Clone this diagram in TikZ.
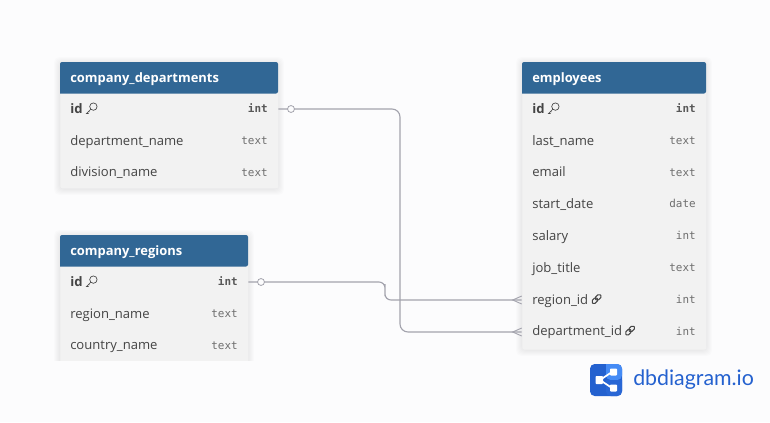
\documentclass[tikz,border=0pt]{standalone}
\usepackage{fontspec}
\setmainfont{Open Sans}
\newfontfamily\typefont{DejaVu Sans Mono}
\newfontfamily\logofont{Lato}
\usetikzlibrary{calc}

\definecolor{pagebg}{HTML}{FCFCFD}
\definecolor{headblue}{HTML}{316795}
\definecolor{bodygrey}{HTML}{F2F2F2}
\definecolor{namegrey}{HTML}{444444}
\definecolor{typegrey}{HTML}{6E6E6E}
\definecolor{linkgrey}{HTML}{A3A3AD}
\definecolor{logodark}{HTML}{2461CF}
\definecolor{logolight}{HTML}{458BF5}

\tikzset{
  tablebody/.style={fill=bodygrey,draw=none,rounded corners=1.5pt,anchor=north west,inner sep=0pt},
  softshadow/.style={fill=black,draw=none,opacity=0.012,rounded corners=4pt},
  headtext/.style={anchor=base west,inner sep=0pt,yshift=-3.4pt,text=white,font=\bfseries\fontsize{9.7}{12}\selectfont},
  rowbox/.style={inner sep=0pt,minimum height=20pt,draw=none},
  colname/.style={anchor=base west,inner sep=0pt,yshift=-3.6pt,text=namegrey,font=\fontsize{9.8}{12}\selectfont},
  keyname/.style={colname,font=\bfseries\fontsize{9.8}{12}\selectfont},
  coltype/.style={anchor=base east,inner sep=0pt,yshift=-3pt,text=typegrey,font=\typefont\fontsize{8.2}{12}\selectfont},
  keytype/.style={coltype,text=typegrey!80!black,font=\typefont\bfseries\fontsize{8.2}{12}\selectfont},
  refline/.style={draw=linkgrey,line width=0.85pt},
  onemark/.style={circle,draw=linkgrey,fill=pagebg,line width=0.6pt,inner sep=0pt,minimum size=5.2pt},
  keymark/.pic={
    \draw[namegrey,line width=0.5pt] (1.9,1.9) circle [radius=3.7];
    \draw[namegrey,line width=0.5pt] (-0.6,-0.6) -- (-5,-5) -- (-2.8,-5) (-3.4,-3.4) -- (-2,-3.4);
  },
  linkmark/.pic={
    \draw[namegrey,line width=0.75pt,rounded corners=1.2pt,rotate=45] (-5.6,-2) rectangle (0.8,2);
    \draw[namegrey,line width=0.75pt,rounded corners=1.2pt,rotate=45] (-0.8,-2) rectangle (5.6,2);
  },
}

\begin{document}
\begin{tikzpicture}[x=0.75pt,y=0.75pt,yscale=-1,xscale=1]
\path[fill=pagebg] (0,0) rectangle (770,422);
\useasboundingbox (0,0) rectangle (770,422);

% shadows
\foreach \s in {1,...,6} {
  \fill[softshadow] (60-\s,62-\s+1) rectangle (278+\s,188+\s+1);
  \fill[softshadow] (522-\s,62-\s+1) rectangle (706+\s,349+\s+1);
  \begin{scope}
  \clip (40,215) rectangle (268,360);
  \fill[softshadow] (60-\s,235-\s+1) rectangle (248+\s,375);
  \end{scope}
}

% company_departments
\node[tablebody,minimum width=163.5pt,minimum height=94.5pt] (depts) at (60,62) {};
\path[fill=headblue,rounded corners=1.5pt] (60,93.5) -- (60,62) -- (278,62) -- (278,93.5) [sharp corners] -- cycle;
\node[headtext] (deptshead) at (70,77.5) {company\_departments};
\node[rowbox,minimum width=163.5pt] (deptsid) at (169,109) {};
\node[keyname] (deptsidname) at (70,108.5) {id};
\path (91.5,108.5) pic {keymark};
\node[keytype] (deptsidtype) at (268,108.5) {int};
\node[colname] (deptsdept) at (70,140.5) {department\_name};
\node[coltype] (deptsdepttype) at (268,140.5) {text};
\node[colname] (deptsdiv) at (70,172) {division\_name};
\node[coltype] (deptsdivtype) at (268,172) {text};

% company_regions
\begin{scope}
\clip (40,215) rectangle (268,360);
\node[tablebody,minimum width=141pt,minimum height=100pt] (regions) at (60,235) {};
\end{scope}
\path[fill=headblue,rounded corners=1.5pt] (60,266.5) -- (60,235) -- (248,235) -- (248,266.5) [sharp corners] -- cycle;
\node[headtext] (regionshead) at (70,250.5) {company\_regions};
\node[rowbox,minimum width=141pt] (regionsid) at (154,282) {};
\node[keyname] (regionsidname) at (70,281.5) {id};
\path (91.5,281.5) pic {keymark};
\node[keytype] (regionsidtype) at (238,281.5) {int};
\node[colname] (regionsname) at (70,313.5) {region\_name};
\node[coltype] (regionsnametype) at (238,313.5) {text};
\node[colname] (regionscountry) at (70,345) {country\_name};
\node[coltype] (regionscountrytype) at (238,345) {text};

% employees
\node[tablebody,minimum width=138pt,minimum height=215.5pt] (emps) at (522,62) {};
\path[fill=headblue,rounded corners=1.5pt] (522,93.5) -- (522,62) -- (706,62) -- (706,93.5) [sharp corners] -- cycle;
\node[headtext] (empshead) at (532,77.5) {employees};
\node[keyname] (empsidname) at (532,108.5) {id};
\path (553.5,108.5) pic {keymark};
\node[keytype] (empsidtype) at (696,108.5) {int};
\node[colname] (empslast) at (532,140.5) {last\_name};
\node[coltype] (empslasttype) at (696,140.5) {text};
\node[colname] (empsemail) at (532,172) {email};
\node[coltype] (empsemailtype) at (696,172) {text};
\node[colname] (empsstart) at (532,203.5) {start\_date};
\node[coltype] (empsstarttype) at (696,203.5) {date};
\node[colname] (empssalary) at (532,235.5) {salary};
\node[coltype] (empssalarytype) at (696,235.5) {int};
\node[colname] (empsjob) at (532,267.5) {job\_title};
\node[coltype] (empsjobtype) at (696,267.5) {text};
\node[rowbox,minimum width=138pt] (empsregion) at (614,300) {};
\node[colname] (empsregionname) at (532,299.5) {region\_id};
\path (596.5,299) pic {linkmark};
\node[coltype] (empsregiontype) at (696,299.5) {int};
\node[rowbox,minimum width=138pt] (empsdept) at (614,332) {};
\node[colname] (empsdeptname) at (532,331) {department\_id};
\path (630,330.5) pic {linkmark};
\node[coltype] (empsdepttype) at (696,331) {int};

% bends
\coordinate (deptsbend) at (400,200);
\coordinate (regionsbend) at (385,290);

% connectors
\draw[refline,rounded corners=6pt] (deptsid.east) -| (deptsbend) |- (empsdept.west);
\draw[refline,rounded corners=4.5pt] (regionsid.east) -| (regionsbend) |- (empsregion.west);
\node[onemark] (deptsone) at (291,109) {};
\node[onemark] (regionsone) at (261,282) {};
\draw[refline,line width=0.7pt] ([yshift=-3pt]empsregion.west) -- ([xshift=-6.75pt]empsregion.west) -- ([yshift=3pt]empsregion.west);
\draw[refline,line width=0.7pt] ([yshift=-3pt]empsdept.west) -- ([xshift=-6.75pt]empsdept.west) -- ([yshift=3pt]empsdept.west);

% logo
\fill[logodark,rounded corners=3.5pt] (590,364) rectangle (622,396);
\fill[logolight,rounded corners=3.5pt] (606,364) -- (622,364) -- (622,380) -- (606,380) [sharp corners] -- cycle;
\fill[logodark!85!logolight] (606,380) -- (622,380) [rounded corners=3.5pt] -- (622,396) -- (606,396) [sharp corners] -- cycle;
\draw[white,line width=1.3pt] (612,372) -- (600,380) -- (612,388);
\fill[white,rounded corners=0.6pt] (595.5,376) rectangle (603,384);
\fill[white,rounded corners=0.6pt] (610,368.5) rectangle (617,375.5);
\fill[white,rounded corners=0.6pt] (610,384.5) rectangle (617,391.5);
\node[anchor=west,inner sep=0pt,text=logodark,font=\logofont\fontsize{16}{18}\selectfont] (logotext) at (633,380) {dbdiagram.io};
\end{tikzpicture}
\end{document}
